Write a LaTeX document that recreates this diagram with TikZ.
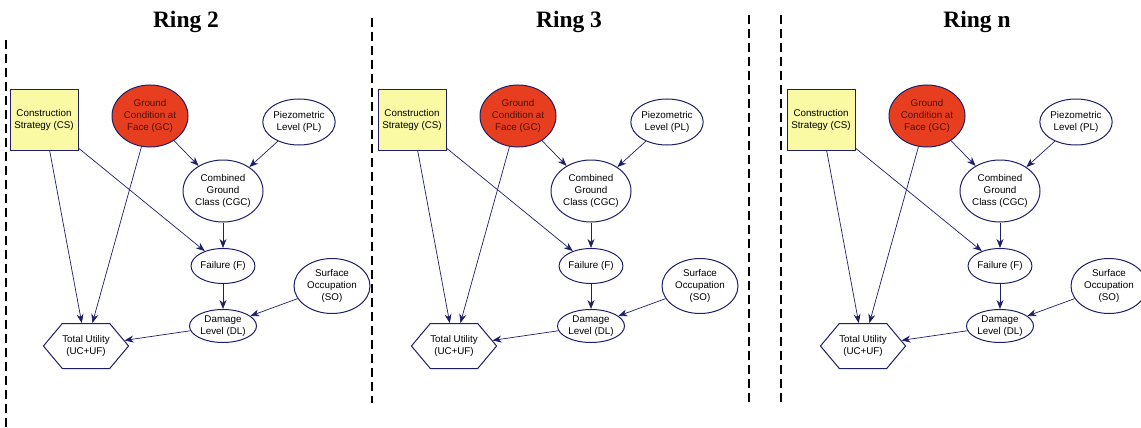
\documentclass[tikz,border=0pt]{standalone}
\usepackage{fontspec}
\setmainfont{Liberation Serif}
\setsansfont{Liberation Sans}
\usetikzlibrary{shapes.geometric,shapes.symbols,arrows.meta}
\definecolor{navy}{RGB}{30,30,105}
\definecolor{gcred}{RGB}{232,62,32}
\definecolor{gctext}{RGB}{80,18,8}
\definecolor{csyellow}{RGB}{250,250,165}
\begin{document}
\begin{tikzpicture}[x=1pt,y=-1pt,
  txt/.style={align=center,inner sep=0pt,text=black,
    font=\sffamily\fontsize{9.8}{12.4}\selectfont},
  var/.style={txt,ellipse,draw=navy,line width=1pt},
  gcnode/.style={var,fill=gcred,text=gctext,minimum width=76pt,minimum height=62pt},
  csnode/.style={txt,rectangle,draw=navy,line width=1pt,fill=csyellow,minimum width=68pt,minimum height=61pt},
  tunode/.style={txt,signal,signal to=west and east,signal pointer angle=100,draw=navy,line width=1pt,minimum width=81pt,minimum height=45pt},
  link/.style={draw=navy,line width=0.7pt,-{Stealth[length=9pt,width=7pt]}},
  ringtitle/.style={font=\bfseries\fontsize{23.5}{26}\selectfont,anchor=base},
  divider/.style={line width=2pt,dash pattern=on 9pt off 5pt}]
\useasboundingbox (0,0) rectangle (1141,428);
% dividers between the rings
\draw[divider] (6,40) -- (6,428);
\draw[divider] (372,18) -- (372,403);
\draw[divider] (749,15) -- (749,403);
\draw[divider] (781,15) -- (781,403);
% Ring 2
\node[ringtitle] (t2) at (186,28) {Ring 2};
\node[csnode] (cs2) at (44,120) {Construction\\Strategy (CS)};
\node[gcnode] (gc2) at (150,116) {Ground\\Condition at\\Face (GC)};
\node[var,minimum width=72pt,minimum height=46pt] (pl2) at (299,122) {Piezometric\\Level (PL)};
\node[var,minimum width=80pt,minimum height=62pt] (cgc2) at (223,191) {Combined\\Ground\\Class (CGC)};
\node[var,minimum width=62pt,minimum height=35pt] (f2) at (223,266) {Failure (F)};
\node[var,minimum width=76pt,minimum height=55pt] (so2) at (332,286) {Surface\\Occupation\\(SO)};
\node[var,minimum width=67pt,minimum height=33pt] (dl2) at (223,326) {Damage\\Level (DL)};
\node[tunode] (tu2) at (86,346) {Total Utility\\(UC+UF)};
\draw[link] (cs2) -- (tu2);
\draw[link] (gc2) -- (tu2);
\draw[link] (cs2) -- (f2);
\draw[link] (gc2) -- (cgc2);
\draw[link] (pl2) -- (cgc2);
\draw[link] (cgc2) -- (f2);
\draw[link] (f2) -- (dl2);
\draw[link] (so2) -- (dl2);
\draw[link] (dl2) -- (tu2);
% Ring 3
\node[ringtitle] (t3) at (569,28) {Ring 3};
\node[csnode] (cs3) at (412,120) {Construction\\Strategy (CS)};
\node[gcnode] (gc3) at (518,116) {Ground\\Condition at\\Face (GC)};
\node[var,minimum width=72pt,minimum height=46pt] (pl3) at (667,122) {Piezometric\\Level (PL)};
\node[var,minimum width=80pt,minimum height=62pt] (cgc3) at (591,191) {Combined\\Ground\\Class (CGC)};
\node[var,minimum width=62pt,minimum height=35pt] (f3) at (591,266) {Failure (F)};
\node[var,minimum width=76pt,minimum height=55pt] (so3) at (700,286) {Surface\\Occupation\\(SO)};
\node[var,minimum width=67pt,minimum height=33pt] (dl3) at (591,326) {Damage\\Level (DL)};
\node[tunode] (tu3) at (454,346) {Total Utility\\(UC+UF)};
\draw[link] (cs3) -- (tu3);
\draw[link] (gc3) -- (tu3);
\draw[link] (cs3) -- (f3);
\draw[link] (gc3) -- (cgc3);
\draw[link] (pl3) -- (cgc3);
\draw[link] (cgc3) -- (f3);
\draw[link] (f3) -- (dl3);
\draw[link] (so3) -- (dl3);
\draw[link] (dl3) -- (tu3);
% Ring n
\node[ringtitle] (tn) at (977,28) {Ring n};
\node[csnode] (csn) at (821,120) {Construction\\Strategy (CS)};
\node[gcnode] (gcn) at (927,116) {Ground\\Condition at\\Face (GC)};
\node[var,minimum width=72pt,minimum height=46pt] (pln) at (1076,122) {Piezometric\\Level (PL)};
\node[var,minimum width=80pt,minimum height=62pt] (cgcn) at (1000,191) {Combined\\Ground\\Class (CGC)};
\node[var,minimum width=62pt,minimum height=35pt] (fn) at (1000,266) {Failure (F)};
\node[var,minimum width=76pt,minimum height=55pt] (son) at (1109,286) {Surface\\Occupation\\(SO)};
\node[var,minimum width=67pt,minimum height=33pt] (dln) at (1000,326) {Damage\\Level (DL)};
\node[tunode] (tun) at (863,346) {Total Utility\\(UC+UF)};
\draw[link] (csn) -- (tun);
\draw[link] (gcn) -- (tun);
\draw[link] (csn) -- (fn);
\draw[link] (gcn) -- (cgcn);
\draw[link] (pln) -- (cgcn);
\draw[link] (cgcn) -- (fn);
\draw[link] (fn) -- (dln);
\draw[link] (son) -- (dln);
\draw[link] (dln) -- (tun);
\end{tikzpicture}
\end{document}
